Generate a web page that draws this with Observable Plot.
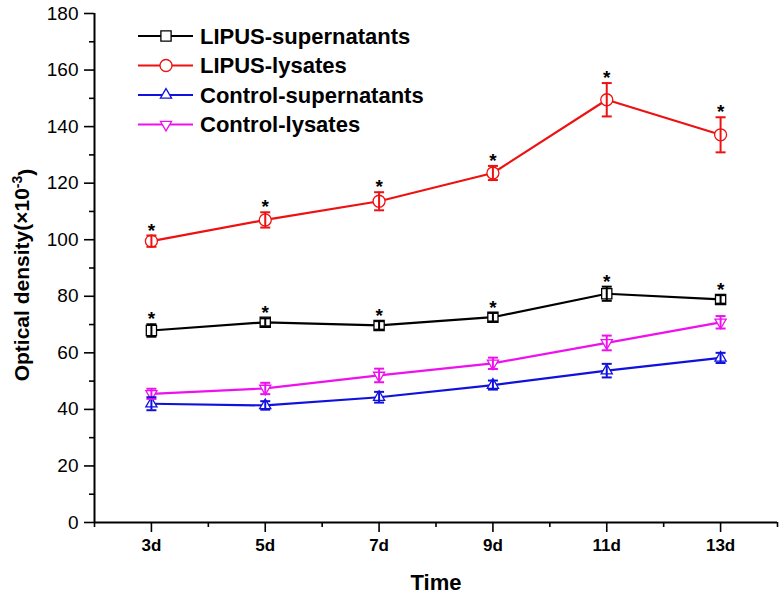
<!DOCTYPE html>
<html>
<head>
<meta charset="utf-8">
<script src="https://cdn.jsdelivr.net/npm/d3@7"></script>
<script src="https://cdn.jsdelivr.net/npm/@observablehq/plot@0.6"></script>
<style>
  html, body { margin: 0; padding: 0; background: white; }
  #chart { width: 783px; height: 597px; }
</style>
</head>
<body>
<div id="chart"></div>
<script>
// ---- data ----
const days = [3, 5, 7, 9, 11, 13];
const dayLabels = ["3d", "5d", "7d", "9d", "11d", "13d"];
const minorDays = [2, 4, 6, 8, 10, 12, 14];
const seriesNames = ["LIPUS-supernatants", "LIPUS-lysates", "Control-supernatants", "Control-lysates"];
const seriesColors = ["#000000", "#ee1111", "#1111dd", "#ee11ee"];
const starredSeries = ["LIPUS-supernatants", "LIPUS-lysates"];

const lipusSup    = [67.9, 70.8, 69.7, 72.6, 80.9, 78.9];
const lipusSupErr = [2.2, 1.4, 1.5, 1.5, 2.5, 1.5];
const lipusLys    = [99.5, 107.0, 113.6, 123.6, 149.5, 137.1];
const lipusLysErr = [2.0, 2.7, 3.2, 2.5, 5.9, 6.2];
const ctrlSup     = [42.0, 41.4, 44.3, 48.6, 53.7, 58.2];
const ctrlSupErr  = [2.3, 1.5, 1.9, 1.6, 2.4, 1.8];
const ctrlLys     = [45.5, 47.4, 52.0, 56.3, 63.5, 70.8];
const ctrlLysErr  = [1.8, 2.0, 2.4, 2.0, 2.6, 2.2];

const yMajor = [0, 20, 40, 60, 80, 100, 120, 140, 160, 180];
const yMinor = [10, 30, 50, 70, 90, 110, 130, 150, 170];
const xTitle = "Time";
const yTitle = "Optical density(×10";
const yTitleSup = "-3";
const yTitleEnd = ")";

// ---- table ----
const valuesBySeries = [lipusSup, lipusLys, ctrlSup, ctrlLys];
const errsBySeries = [lipusSupErr, lipusLysErr, ctrlSupErr, ctrlLysErr];
const table = [];
seriesNames.forEach((s, si) => {
  days.forEach((d, i) => {
    table.push({series: s, day: d, value: valuesBySeries[si][i], err: errsBySeries[si][i]});
  });
});

// ---- custom symbols ----
const symSquare = {draw(ctx, size) { const h = Math.sqrt(size) * 0.48; ctx.rect(-h, -h, 2*h, 2*h); }};
const symCircle = {draw(ctx, size) { const r = Math.sqrt(size / Math.PI); ctx.moveTo(r, 0); ctx.arc(0, 0, r, 0, 2*Math.PI); }};
const symTriUp = {draw(ctx, size) { const s = Math.sqrt(size) * 1.05; const h = s * Math.sqrt(3) / 2;
  ctx.moveTo(0, -h*2/3); ctx.lineTo(s/2, h/3); ctx.lineTo(-s/2, h/3); ctx.closePath(); }};
const symTriDown = {draw(ctx, size) { const s = Math.sqrt(size) * 1.05; const h = s * Math.sqrt(3) / 2;
  ctx.moveTo(0, h*2/3); ctx.lineTo(s/2, -h/3); ctx.lineTo(-s/2, -h/3); ctx.closePath(); }};
const symCap = {draw(ctx, size) { const w = 5; ctx.moveTo(-w, 0); ctx.lineTo(w, 0); }};
const seriesSymbols = [symSquare, symCircle, symTriUp, symTriDown];

const font = "'Liberation Sans', Arial, Helvetica, sans-serif";

const chart = Plot.plot({
  width: 783,
  height: 597,
  marginLeft: 94,
  marginRight: 6,
  marginTop: 13,
  marginBottom: 75,
  style: {fontFamily: font, color: "black", background: "white", overflow: "visible"},
  x: {domain: [2, 14]},
  y: {domain: [0, 180]},
  color: {domain: seriesNames, range: seriesColors},
  symbol: {domain: seriesNames, range: seriesSymbols},
  marks: [
    // axes
    Plot.axisY(yMajor, {tickSize: 10, tickPadding: 6, fontSize: 19, strokeWidth: 1.6, label: null}),
    Plot.axisY(yMinor, {tickSize: 5, tickFormat: () => "", strokeWidth: 1.6, label: null}),
    Plot.axisX(days, {tickSize: 10, tickPadding: 6, fontSize: 17, fontWeight: "bold", strokeWidth: 1.6,
      tickFormat: (d) => dayLabels[days.indexOf(d)], label: null}),
    Plot.axisX(minorDays, {tickSize: 5, tickFormat: () => "", strokeWidth: 1.6, label: null}),
    Plot.ruleY([0], {strokeWidth: 2}),
    Plot.ruleX([2], {strokeWidth: 2}),
    // data
    Plot.line(table, {x: "day", y: "value", z: "series", stroke: "series", strokeWidth: 2.2}),
    Plot.dot(table, {x: "day", y: "value", symbol: "series", stroke: "series", fill: "white", r: 6, strokeWidth: 1.3}),
    Plot.ruleX(table, {x: "day", y1: (d) => d.value - d.err, y2: (d) => d.value + d.err, stroke: "series", strokeWidth: 2}),
    Plot.dot(table, {x: "day", y: (d) => d.value - d.err, symbol: symCap, stroke: "series", strokeWidth: 2, r: 5}),
    Plot.dot(table, {x: "day", y: (d) => d.value + d.err, symbol: symCap, stroke: "series", strokeWidth: 2, r: 5}),
    Plot.text(table.filter((d) => starredSeries.includes(d.series)), {
      x: "day", y: (d) => d.value + d.err, text: () => "*", dy: -5, lineAnchor: "middle",
      fontSize: 19, fontWeight: "bold", fill: "black"}),
    // titles
    Plot.text([xTitle], {frameAnchor: "bottom", dy: 60, lineAnchor: "middle", fontSize: 22, fontWeight: "bold", fill: "black"}),
    Plot.text([yTitle], {frameAnchor: "left", rotate: -90, dx: -72, dy: 7, textAnchor: "middle", lineAnchor: "middle",
      fontSize: 21, fontWeight: "bold", fill: "black"})
  ]
});

// superscript in the y title
d3.select(chart).selectAll("text").each(function () {
  const t = d3.select(this);
  if (t.text() === yTitle) {
    t.text(null);
    t.append("tspan").text(yTitle);
    t.append("tspan").attr("dy", "-0.5em").attr("font-size", "14px").text(yTitleSup);
    t.append("tspan").attr("dy", "0.5em").text(yTitleEnd);
  }
});

// legend
const lg = d3.select(chart).append("g").attr("font-family", font).attr("text-anchor", "start");
const rowY = [36, 65.5, 95, 124.5];
seriesNames.forEach((s, i) => {
  const g = lg.append("g").attr("transform", `translate(0,${rowY[i]})`);
  g.append("line").attr("x1", 138).attr("x2", 193).attr("y1", 0).attr("y2", 0)
    .attr("stroke", seriesColors[i]).attr("stroke-width", 2.2);
  g.append("path").attr("transform", "translate(166,0)")
    .attr("d", d3.symbol(seriesSymbols[i], Math.PI * 36)())
    .attr("fill", "white").attr("stroke", seriesColors[i]).attr("stroke-width", 1.3);
  g.append("text").attr("x", 200).attr("y", 0).attr("dy", "0.36em").attr("text-anchor", "start")
    .attr("font-size", 22).attr("font-weight", "bold").attr("fill", "black").text(s);
});

document.getElementById("chart").appendChild(chart);
</script>
</body>
</html>
